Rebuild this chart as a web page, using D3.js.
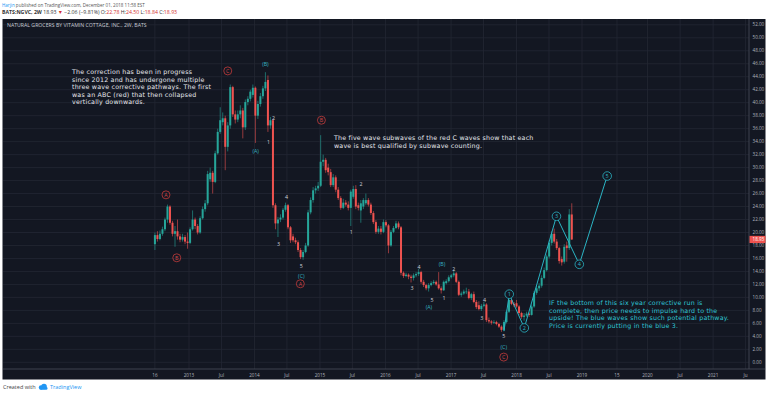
<!DOCTYPE html>
<html><head><meta charset="utf-8">
<script src="https://cdn.jsdelivr.net/npm/d3@7"></script>
<style>
body{margin:0;background:#fff;}
svg{display:block;font-family:"Open Sans",sans-serif;}
</style>
</head><body>
<svg id="c" width="768" height="395"></svg>
<script>
// ---- data ----
const startDate = "2012-06-25"; // first 2-week bar
const opens  = [18.2,19.6,19.0,19.8,20.5,22.0,24.0,21.5,19.8,20.2,19.4,18.9,19.3,18.6,18.4,20.5,22.0,21.0,20.0,22.2,23.6,24.5,28.2,29.2,27.8,32.2,35.5,37.0,37.6,33.2,36.5,42.4,38.2,37.4,38.2,38.8,36.2,40.1,40.6,41.2,42.3,38.0,39.8,41.0,42.2,43.5,36.5,37.3,24.2,21.4,22.0,22.3,23.5,24.2,20.8,19.4,18.8,18.5,17.3,16.2,17.0,18.0,23.1,25.0,26.5,26.8,27.2,30.9,31.2,30.0,29.3,27.3,28.5,26.6,25.3,23.8,24.6,24.3,23.8,25.5,26.7,24.2,23.4,24.0,24.5,25.0,24.3,23.0,21.6,20.1,20.6,20.1,21.6,21.1,18.0,20.1,20.7,21.4,20.8,13.8,13.3,13.5,13.2,13.0,13.4,13.6,13.9,12.4,11.9,11.4,11.9,12.2,12.4,12.0,11.4,11.1,12.2,12.5,13.1,13.4,13.7,12.4,10.4,10.6,10.8,10.9,9.9,10.5,9.3,8.8,8.2,8.7,8.9,6.5,6.3,6.1,6.2,5.9,5.5,5.0,6.2,7.8,9.6,9.0,9.1,8.6,7.6,7.0,7.2,7.5,7.3,8.6,10.7,11.4,11.8,13.0,14.2,16.3,18.4,19.8,18.6,17.6,15.9,15.5,18.0,17.6,22.78];
const highs  = [20.0,20.2,20.3,20.9,22.3,24.3,24.2,21.8,21.0,22.0,19.8,19.8,19.6,20.0,20.8,23.4,22.3,21.3,22.5,24.0,25.0,29.5,30.0,29.5,32.6,36.0,39.3,38.5,38.0,37.0,42.8,42.6,38.8,38.8,39.6,39.2,40.5,41.0,42.0,42.8,42.5,40.3,41.5,42.6,44.7,44.2,37.8,37.5,24.5,22.4,22.8,23.8,24.6,24.4,21.0,19.8,19.2,18.8,17.6,17.3,18.4,23.5,25.4,27.0,27.2,27.8,35.0,32.0,31.5,30.6,29.8,29.0,28.8,27.0,25.6,25.2,25.0,24.8,26.6,27.2,27.3,24.6,25.0,25.3,26.0,25.3,24.6,23.3,21.9,21.0,21.0,22.0,21.9,21.3,20.4,21.0,21.8,21.7,21.0,14.0,13.8,13.7,13.5,13.7,13.9,14.4,14.1,12.7,12.1,12.2,12.5,12.7,12.6,13.9,11.7,12.6,12.8,13.4,13.6,14.2,13.9,12.6,10.9,11.2,11.5,11.3,10.7,10.9,9.6,9.4,9.0,9.3,9.1,6.9,6.5,6.5,6.4,6.1,5.7,6.5,8.1,10.2,9.8,9.3,9.6,8.8,7.8,7.6,7.8,7.7,8.9,11.0,11.8,12.2,13.4,14.6,16.6,18.8,20.2,20.6,19.0,17.8,16.3,18.2,18.6,23.6,24.5];
const lows   = [17.3,18.6,18.8,19.5,20.2,21.5,21.2,19.4,17.8,18.9,18.5,18.6,18.2,17.5,18.2,20.3,20.5,19.7,19.8,22.0,23.2,24.2,27.8,26.0,27.6,32.0,35.2,36.5,29.6,32.5,36.0,37.8,36.8,37.0,37.6,34.5,35.8,39.6,40.2,40.8,33.8,37.5,39.4,40.6,41.8,35.5,36.0,23.8,20.5,19.3,21.6,22.0,23.2,20.5,18.4,18.5,18.2,17.0,15.9,15.8,16.8,17.8,22.8,24.6,26.0,26.4,27.0,30.2,29.2,28.8,27.0,27.0,26.2,25.0,23.5,23.6,24.0,23.4,21.0,25.2,23.6,23.4,21.5,23.6,24.2,24.0,22.7,21.3,19.8,19.8,19.7,19.9,20.8,16.8,17.8,19.9,20.5,20.5,13.4,13.0,13.1,12.8,12.3,12.6,13.1,13.3,12.1,11.6,11.1,10.9,11.7,12.0,11.8,11.2,10.6,11.0,12.0,12.3,12.9,13.1,12.2,10.2,10.1,10.4,10.5,9.7,9.6,9.1,8.2,8.0,7.9,8.5,6.2,6.0,5.8,5.9,5.7,5.3,4.7,4.8,6.0,7.6,8.8,8.5,8.4,7.3,6.7,6.4,7.0,7.0,7.2,8.4,10.4,11.0,11.5,12.8,14.0,16.0,18.0,18.3,17.3,15.2,14.9,15.2,15.5,17.3,18.84];
const closes = [19.6,19.0,19.8,20.5,22.0,24.0,21.5,19.8,20.2,19.4,18.9,19.3,18.6,18.4,20.5,22.0,21.0,20.0,22.2,23.6,24.5,29.0,29.2,27.8,32.2,35.5,37.3,37.6,33.2,36.5,42.4,38.2,37.4,38.2,38.8,36.2,40.1,40.6,41.7,42.3,38.0,39.8,41.0,42.2,43.2,36.5,37.3,24.2,21.4,22.0,22.3,23.5,24.2,20.8,18.8,18.8,18.5,17.3,16.2,17.0,18.0,23.1,25.0,26.5,26.8,27.2,30.9,31.2,29.6,29.3,27.3,28.5,26.6,25.3,23.8,24.6,24.3,23.8,26.3,26.7,24.0,23.8,24.5,25.0,25.0,24.3,23.0,21.6,20.1,20.6,20.1,21.6,21.1,18.0,20.1,20.7,21.4,20.8,13.8,13.3,13.5,13.2,13.0,13.4,13.6,13.9,12.4,11.9,11.4,11.9,12.2,12.4,12.0,11.4,11.1,12.4,12.5,13.1,13.4,13.7,12.4,10.4,10.6,10.9,10.9,9.9,10.5,9.3,8.5,8.2,8.7,8.9,6.5,6.3,6.1,6.2,5.9,5.5,5.0,6.2,7.8,9.6,9.0,8.8,8.6,7.6,7.0,7.2,7.5,7.3,8.6,10.7,11.4,11.8,13.0,14.2,16.3,18.4,19.8,18.6,17.6,15.6,15.4,17.8,17.6,22.78,18.93];

const priceTicks = [0,2,4,6,8,10,12,14,16,18,20,22,24,26,28,30,32,34,36,38,40,42,44,46,48,50,52];
const timeTickDates  = ["2012-06-25","2013-01-01","2013-07-01","2014-01-01","2014-07-01","2015-01-01","2015-07-01","2016-01-01","2016-07-01","2017-01-01","2017-07-01","2018-01-01","2018-07-01","2019-01-01","2019-07-15","2020-01-01","2020-07-01","2021-01-01","2021-07-01"];
const timeTickLabels = ["16","2013","Jul","2014","Jul","2015","Jul","2016","Jul","2017","Jul","2018","Jul","2019","15","2020","Jul","2021","Ju"];

// blue projected impulse (bar index, price)
const waveIdx    = [139, 141.1, 147.1, 159.9, 169.0, 180.1];
const wavePrice  = [4.8, 10.5, 5.3, 22.5, 15.1, 28.7];
const waveLabels = ["", "1", "2", "3", "4", "5"];

// red circled ABC
const redIdx   = [4.4, 8.7, 29.0, 66.3, 57.9, 138.9];
const redPrice = [25.8, 16.1, 44.9, 37.3, 12.1, 0.8];
const redText  = ["A","B","C","B","A","C"];
// teal (A)(B)(C)
const tealIdx   = [44.0, 40.1, 58.3, 114.3, 109.1, 138.9];
const tealPrice = [46.0, 32.6, 13.3, 15.1, 8.5, 2.3];
const tealText  = ["(B)","(A)","(C)","(B)","(A)","(C)"];
// white sub-wave numbers
const numIdx   = [47.2,45.2,49.2,52.4,58.3,78.2,82.1,102.4,105.2,110.3,115.1,119.0,130.2,131.3,138.9];
const numPrice = [37.6,33.9,18.2,25.5,14.8,20.1,27.5,11.5,14.7,9.6,9.9,14.4,6.8,9.6,4.1];
const numText  = ["2","1","3","4","5","1","2","3","4","5","1","2","3","4","5"];

const note1 = ["The correction has been in progress","since 2012 and has undergone multiple","three wave corrective pathways. The first","was an ABC (red) that then collapsed","vertically downwards."];
const note2 = ["The five wave subwaves of the red C waves show that each","wave is best qualified by subwave counting."];
const note3 = ["IF the bottom of this six year corrective run is","complete, then price needs to impulse hard to the","upside! The blue waves show such potential pathway.","Price is currently putting in the blue 3."];

// ---- drawing ----
const svg = d3.select("#c");
const parse = d3.utcParse("%Y-%m-%d");
const start = parse(startDate);
const DAY = 864e5;
const idxDate = i => new Date(start.getTime() + i * 14 * DAY);

const x = d3.scaleUtc().domain([parse("2013-01-01"), parse("2019-01-01")]).range([189, 582]);
const y = d3.scaleLinear().domain([0, 50]).range([362.3, 37.8]);

const BG = "#131722", GRID = "#232733", UP = "#26a69a", DN = "#ef5350";
const PL = 3, PR = 749, PT = 19, PB = 369;

svg.append("rect").attr("x", 2.5).attr("y", PT).attr("width", 763).attr("height", 360.5).attr("fill", BG);

// grid
svg.append("g").selectAll("line").data(priceTicks).join("line")
  .attr("x1", PL).attr("x2", PR).attr("y1", d => y(d)).attr("y2", d => y(d))
  .attr("stroke", GRID).attr("stroke-width", 0.8);
svg.append("g").selectAll("line").data(timeTickDates).join("line")
  .attr("x1", d => x(parse(d))).attr("x2", d => x(parse(d))).attr("y1", PT).attr("y2", PB)
  .attr("stroke", GRID).attr("stroke-width", 0.8);

// axis borders
svg.append("line").attr("x1", PR).attr("x2", PR).attr("y1", PT).attr("y2", PB).attr("stroke", "#4a4e5a").attr("stroke-width", 0.8);
svg.append("line").attr("x1", PL).attr("x2", 765).attr("y1", PB).attr("y2", PB).attr("stroke", "#4a4e5a").attr("stroke-width", 0.8);

// title
svg.append("text").attr("x", 7).attr("y", 27).attr("font-size", 5.2).attr("fill", "#c9ccd4")
  .text("NATURAL GROCERS BY VITAMIN COTTAGE, INC., 2W, BATS");

// candles
const bars = closes.map((c, i) => ({d: idxDate(i), o: opens[i], h: highs[i], l: lows[i], c}));
const cg = svg.append("g");
cg.selectAll("line").data(bars).join("line")
  .attr("x1", b => x(b.d)).attr("x2", b => x(b.d))
  .attr("y1", b => y(b.h)).attr("y2", b => y(b.l))
  .attr("stroke", b => b.c >= b.o ? UP : DN).attr("stroke-width", 0.6);
cg.selectAll("rect").data(bars).join("rect")
  .attr("x", b => x(b.d) - 1).attr("width", 2)
  .attr("y", b => y(Math.max(b.o, b.c)))
  .attr("height", b => Math.max(0.6, Math.abs(y(b.o) - y(b.c))))
  .attr("fill", b => b.c >= b.o ? UP : DN);

// blue wave projection
const WC = "#2bb4c4";
const wpts = waveIdx.map((v, i) => [x(idxDate(v)), y(wavePrice[i])]);
svg.append("path").attr("d", d3.line()(wpts)).attr("fill", "none").attr("stroke", WC).attr("stroke-width", 1);
const wg = svg.append("g").selectAll("g").data(wpts.slice(1)).join("g")
  .attr("transform", p => `translate(${p[0]},${p[1]})`);
wg.append("circle").attr("r", 4.3).attr("fill", BG).attr("stroke", WC).attr("stroke-width", 0.8);
wg.append("text").attr("text-anchor", "middle").attr("dy", "0.35em").attr("font-size", 5.5).attr("fill", WC)
  .text((p, i) => waveLabels[i + 1]);

// red circled letters
const rg = svg.append("g").selectAll("g").data(redText).join("g")
  .attr("transform", (t, i) => `translate(${x(idxDate(redIdx[i]))},${y(redPrice[i])})`);
rg.append("circle").attr("r", 4).attr("fill", "none").attr("stroke", "#c23b3b").attr("stroke-width", 0.8);
rg.append("text").attr("text-anchor", "middle").attr("dy", "0.36em").attr("font-size", 5.3).attr("fill", "#d64545").text(t => t);

// teal (A)(B)(C)
svg.append("g").selectAll("text").data(tealText).join("text")
  .attr("x", (t, i) => x(idxDate(tealIdx[i]))).attr("y", (t, i) => y(tealPrice[i]))
  .attr("text-anchor", "middle").attr("dy", "0.35em").attr("font-size", 5.3).attr("fill", "#35b3c2").text(t => t);

// white numbers
svg.append("g").selectAll("text").data(numText).join("text")
  .attr("x", (t, i) => x(idxDate(numIdx[i]))).attr("y", (t, i) => y(numPrice[i]))
  .attr("text-anchor", "middle").attr("dy", "0.35em").attr("font-size", 5.3).attr("fill", "#d1d4dc").text(t => t);

// notes
function note(lines, x0, y0, lh, color) {
  const t = svg.append("text").attr("font-family", "'DejaVu Sans', sans-serif")
    .attr("font-size", 6.3).attr("letter-spacing", 0.2).attr("fill", color);
  lines.forEach((s, i) => t.append("tspan").attr("x", x0).attr("y", y0 + i * lh).text(s));
}
note(note1, 72, 74, 7.5, "#e6e8ee");
note(note2, 334, 140, 7.5, "#e6e8ee");
note(note3, 549, 305, 7.5, "#2fc6d6");

// price axis labels
svg.append("g").selectAll("text").data(priceTicks).join("text")
  .attr("x", 752.5).attr("y", d => y(d)).attr("dy", "0.35em").attr("font-size", 4.6).attr("fill", "#b2b5be")
  .text(d => d.toFixed(2));
// last price marker
const lp = closes[closes.length - 1];
svg.append("rect").attr("x", 749.5).attr("y", y(lp) - 3.6).attr("width", 16).attr("height", 7.2).attr("fill", DN);
svg.append("text").attr("x", 752.5).attr("y", y(lp)).attr("dy", "0.35em").attr("font-size", 4.6).attr("fill", "#fff").text(lp.toFixed(2));

// time axis labels
svg.append("g").selectAll("text").data(timeTickDates).join("text")
  .attr("x", d => x(parse(d))).attr("y", 376.5).attr("text-anchor", "middle").attr("font-size", 4.6).attr("fill", "#b2b5be")
  .text((d, i) => timeTickLabels[i]);

// header
const h1 = svg.append("text").attr("x", 2).attr("y", 6.5).attr("font-size", 4.5).attr("fill", "#555");
h1.append("tspan").attr("fill", "#2196f3").text("Harjin");
h1.append("tspan").text(" published on TradingView.com, December 01, 2018 11:58 EST");
const h2 = svg.append("text").attr("x", 2).attr("y", 14).attr("font-size", 5.2).attr("fill", "#333");
h2.append("tspan").attr("font-weight", "bold").text("BATS:NGVC, 2W");
h2.append("tspan").text("  18.93 ");
h2.append("tspan").attr("fill", "#d32f2f").text("▼");
h2.append("tspan").text(" −2.06 (−9.81%) O:");
h2.append("tspan").attr("fill", "#d32f2f").text("22.78");
h2.append("tspan").text(" H:");
h2.append("tspan").attr("fill", "#d32f2f").text("24.50");
h2.append("tspan").text(" L:");
h2.append("tspan").attr("fill", "#d32f2f").text("18.84");
h2.append("tspan").text(" C:");
h2.append("tspan").attr("fill", "#d32f2f").text("18.93");

// footer
svg.append("text").attr("x", 3).attr("y", 389).attr("font-size", 5.5).attr("fill", "#444").text("Created with");
const logo = svg.append("g").attr("transform", "translate(38,383.5)").attr("fill", "#2196f3");
logo.append("circle").attr("cx", 3).attr("cy", 4).attr("r", 2.2);
logo.append("circle").attr("cx", 6).attr("cy", 3).attr("r", 2.8);
logo.append("rect").attr("x", 2).attr("y", 3.5).attr("width", 7.5).attr("height", 2.7).attr("rx", 1.3);
svg.append("text").attr("x", 50).attr("y", 389).attr("font-size", 5.5).attr("fill", "#2196f3").text("TradingView");
</script>
</body></html>
